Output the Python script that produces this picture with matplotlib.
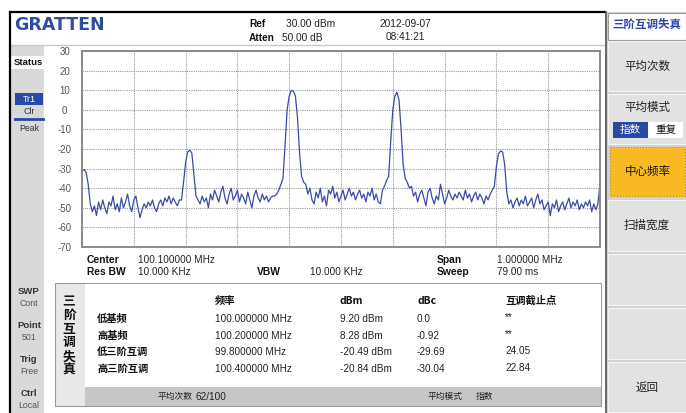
import numpy as np
import matplotlib
matplotlib.use('Agg')
import matplotlib.pyplot as plt
from matplotlib.patches import Rectangle

plt.rcParams['font.family'] = ['Liberation Sans', 'Noto Sans CJK SC', 'DejaVu Sans']

# ---------------- data ----------------
center_mhz = 100.1
span_mhz = 1.0
y_ticks = [30, 20, 10, 0, -10, -20, -30, -40, -50, -60, -70]

trace_dbm = [
    -31, -30.5, -32, -38, -48, -52, -49, -54, -47, -51,
    -46, -50, -53, -47, -49, -44, -51, -48, -52, -45,
    -50, -47, -43, -49, -52, -46, -44, -50, -55, -51,
    -48, -50, -47, -49, -46, -50, -52, -48, -46, -49,
    -45, -47, -44, -48, -45, -47, -49, -46, -46, -37,
    -27, -21.5, -20.6, -22, -33, -44, -46, -48, -44, -47,
    -45, -50, -43, -46, -41, -44, -47, -42, -39, -45,
    -48, -43, -40, -46, -44, -41, -47, -43, -45, -48,
    -42, -46, -50, -44, -41, -45, -47, -43, -46, -44,
    -47, -45, -44, -44, -43, -41, -38, -35, -18, 0,
    7, 9.8, 9.5, 7, -4, -22, -34, -37, -38, -43,
    -40, -46, -48, -42, -45, -40, -47, -44, -49, -41,
    -43, -39, -45, -42, -47, -44, -41, -46, -43, -40,
    -44, -42, -46, -43, -41, -45, -43, -47, -42, -44,
    -40, -46, -43, -47, -48, -41, -39, -36, -34, -16,
    0, 7, 8.9, 5, -10, -28, -35, -37, -40, -39,
    -44, -42, -47, -43, -41, -45, -49, -42, -40, -45,
    -48, -44, -46, -38, -43, -48, -45, -41, -44, -46,
    -43, -45, -42, -44, -46, -41, -45, -43, -47, -44,
    -42, -46, -43, -45, -48, -44, -46, -43, -41, -39,
    -29, -22.5, -21, -21.5, -28, -42, -48, -46, -50, -47,
    -45, -49, -46, -48, -44, -49, -47, -45, -50, -46,
    -43, -48, -46, -51, -49, -47, -54, -48, -50, -46,
    -52, -49, -47, -51, -48, -45, -50, -47, -49, -46,
    -51, -48, -50, -47, -49, -46, -52, -48, -51, -48,
    -38,
]

header_ref = '30.00 dBm'
header_atten = '50.00 dB'
header_date = '2012-09-07'
header_time = '08:41:21'
info_center = '100.100000 MHz'
info_rbw = '10.000 KHz'
info_vbw = '10.000 KHz'
info_span = '1.000000 MHz'
info_sweep = '79.00 ms'

table_headers = ['频率', 'dBm', 'dBc', '互调截止点']
table_rows = ['低基频', '高基频', '低三阶互调', '高三阶互调']
freq_col = ['100.000000 MHz', '100.200000 MHz', '99.800000 MHz', '100.400000 MHz']
dbm_col = ['9.20 dBm', '8.28 dBm', '-20.49 dBm', '-20.84 dBm']
dbc_col = ['0.0', '-0.92', '-29.69', '-30.04']
ip_col = ['**', '**', '24.05', '22.84']
avg_count = '62/100'
avg_mode = '指数'

softkeys = ['平均次数', '平均模式', '中心频率', '扫描宽度', '', '', '返回']
status_top = ['Tr1', 'Clr', 'Peak']
status_bottom = [('SWP', 'Cont'), ('Point', '501'), ('Trig', 'Free'), ('Ctrl', 'Local')]

# ---------------- figure ----------------
W, H = 686, 413
fig = plt.figure(figsize=(W / 100, H / 100), dpi=100)
fig.patch.set_facecolor('white')
ui = fig.add_axes([0, 0, 1, 1])
ui.set_xlim(0, W)
ui.set_ylim(H, 0)
ui.axis('off')

CJK = ['Noto Sans CJK SC', 'DejaVu Sans']


def rect(x0, y0, x1, y1, fc, ec='none', lw=0, **kw):
    ui.add_patch(Rectangle((x0, y0), x1 - x0, y1 - y0, facecolor=fc,
                           edgecolor=ec, linewidth=lw, **kw))


def txt(x, y, s, size=7.2, ha='left', color='#222222', weight='normal', family=None):
    kw = {}
    if family is not None:
        kw['family'] = family
    ui.text(x, y, s, fontsize=size, ha=ha, va='center', color=color,
            fontweight=weight, **kw)


# left status panel
rect(11, 45, 44, H, '#d9d9d9')
rect(11, 56, 45, 69, 'white')
txt(28, 62.5, 'Status', size=6.8, ha='center', weight='bold', color='#111111')
rect(15, 93, 43, 105, '#2a48a8')
txt(29, 99, status_top[0], size=6.3, ha='center', color='white')
txt(29, 111, status_top[1], size=6.3, ha='center', color='#333333')
ui.plot([15, 43], [119, 119], color='#2a48a8', lw=2)
txt(29, 128.5, status_top[2], size=6.3, ha='center', color='#333333')
for k, (a, b) in enumerate(status_bottom):
    y = 291 + k * 34
    txt(29, y, a, size=6.8, ha='center', weight='bold', color='#333333')
    txt(29, y + 12.5, b, size=6.3, ha='center', color='#555555')

# borders
ui.plot([10, 605], [44.5, 44.5], color='#c8c8c8', lw=1)
ui.plot([10, 605], [12, 12], color='black', lw=1.6)
ui.plot([10, 10], [12, H], color='black', lw=1.6)

# header
txt(14, 25.5, 'GRATTEN', size=12.5, weight='heavy', color='#2d4ea0', family='DejaVu Sans')
txt(249, 24, 'Ref', size=7.3, weight='bold', color='#111111')
txt(286, 24, header_ref, size=7.3, color='#222222')
txt(249, 38, 'Atten', size=7.3, weight='bold', color='#111111')
txt(282, 38, header_atten, size=7.3, color='#222222')
txt(405, 24, header_date, size=7.3, ha='center')
txt(405, 37, header_time, size=7.3, ha='center')

# right soft-key panel
rect(605, 12, W, H, '#d2d2d2')
ui.plot([605.5, 605.5], [12, H], color='#555555', lw=1.2)
rect(607.5, 13, W, 40, 'white', ec='#9a9a9a', lw=0.8)
txt(647, 24, '三阶互调失真', size=8.3, ha='center', weight='bold', color='#2a48a8', family=CJK)
key_boxes = [(41, 91), (94, 144), (147, 196), (200, 251), (254, 305), (308, 359), (362, 412)]
for (y0, y1), lab in zip(key_boxes, softkeys):
    if lab == '中心频率':
        rect(610, y0, 685, y1, '#f8b923', ec='#c88a00', lw=0.8, ls=':')
        txt(647.5, (y0 + y1) / 2, lab, size=8.3, ha='center', color='#111111', family=CJK)
    elif lab == '平均模式':
        rect(608, y0, W, y1, '#e2e2e2', ec='#f4f4f4', lw=0.8)
        txt(647, 107, lab, size=8.3, ha='center', color='#222222', family=CJK)
        rect(613, 122, 648, 138, '#2a48a8')
        rect(648, 122, 683, 138, 'white')
        txt(630.5, 130, avg_mode, size=7.6, ha='center', color='white', family=CJK)
        txt(665.5, 130, '重复', size=7.6, ha='center', color='#111111', family=CJK)
    else:
        rect(608, y0, W, y1, '#e2e2e2', ec='#f4f4f4', lw=0.8)
        if lab:
            txt(647, (y0 + y1) / 2, lab, size=8.3, ha='center', color='#222222', family=CJK)

# info lines under plot
txt(87, 260, 'Center', size=7.4, weight='bold', color='#111111')
txt(138, 260, info_center, size=7.2)
txt(87, 272, 'Res BW', size=7.4, weight='bold', color='#111111')
txt(138, 272, info_rbw, size=7.2)
txt(257, 272, 'VBW', size=7.4, weight='bold', color='#111111')
txt(310, 272, info_vbw, size=7.2)
txt(437, 260, 'Span', size=7.4, weight='bold', color='#111111')
txt(497, 260, info_span, size=7.2)
txt(437, 272, 'Sweep', size=7.4, weight='bold', color='#111111')
txt(497, 272, info_sweep, size=7.2)

# measurement table
rect(55, 283, 601, 406, '#e8e8e8', ec='#9a9a9a', lw=0.8)
rect(85, 284, 600.5, 387, 'white')
rect(85, 387, 600.5, 405.5, '#c6c6c6')
for k, ch in enumerate('三阶互调失真'):
    txt(69, 301.5 + k * 13.8, ch, size=9.2, ha='center', color='#111111',
        weight='bold', family=CJK)
col_x = [215, 340, 417, 505]
for x, h in zip(col_x, table_headers):
    txt(x, 301, h, size=7.4, weight='bold', color='#111111', family=CJK)
for r, (name, f, d, c, ip) in enumerate(zip(table_rows, freq_col, dbm_col, dbc_col, ip_col)):
    y = 319 + r * 16.7
    txt(97, y, name, size=7.4, weight='bold', color='#111111', family=CJK)
    txt(col_x[0], y, f, size=7.2)
    txt(col_x[1], y, d, size=7.2)
    txt(col_x[2], y, c, size=7.2)
    txt(col_x[3], y - 1.5, ip, size=7.2)
txt(157, 396.5, '平均次数', size=6.3, color='#222222', family=CJK)
txt(196, 396.5, avg_count, size=7.2)
txt(428, 396.5, '平均模式', size=6.3, color='#222222', family=CJK)
txt(476, 396.5, avg_mode, size=6.3, color='#222222', family=CJK)

# ---------------- spectrum plot ----------------
ax = fig.add_axes([82 / W, 1 - 247 / H, 518 / W, 196 / H])
f0 = center_mhz - span_mhz / 2
f1 = center_mhz + span_mhz / 2
freqs = np.linspace(f0, f1, len(trace_dbm))
ax.plot(freqs, trace_dbm, color='#3a4ca8', lw=0.9)
ax.set_xlim(f0, f1)
ax.set_ylim(y_ticks[-1], y_ticks[0])
ax.set_xticks(np.linspace(f0, f1, 11))
ax.set_xticklabels([])
ax.set_yticks(y_ticks)
ax.set_yticklabels([str(v) for v in y_ticks])
ax.tick_params(length=0, labelsize=7, labelcolor='#555555', pad=12.5)
for lab in ax.get_yticklabels():
    lab.set_horizontalalignment('center')
ax.tick_params(axis='x', pad=0)
ax.grid(True, color='#9a9a9a', linestyle=(0, (1, 1)), linewidth=0.8)
for s in ax.spines.values():
    s.set_color('#8a8a8a')
    s.set_linewidth(1.4)
ax.set_facecolor('white')

fig.savefig('out.png', dpi=100)
